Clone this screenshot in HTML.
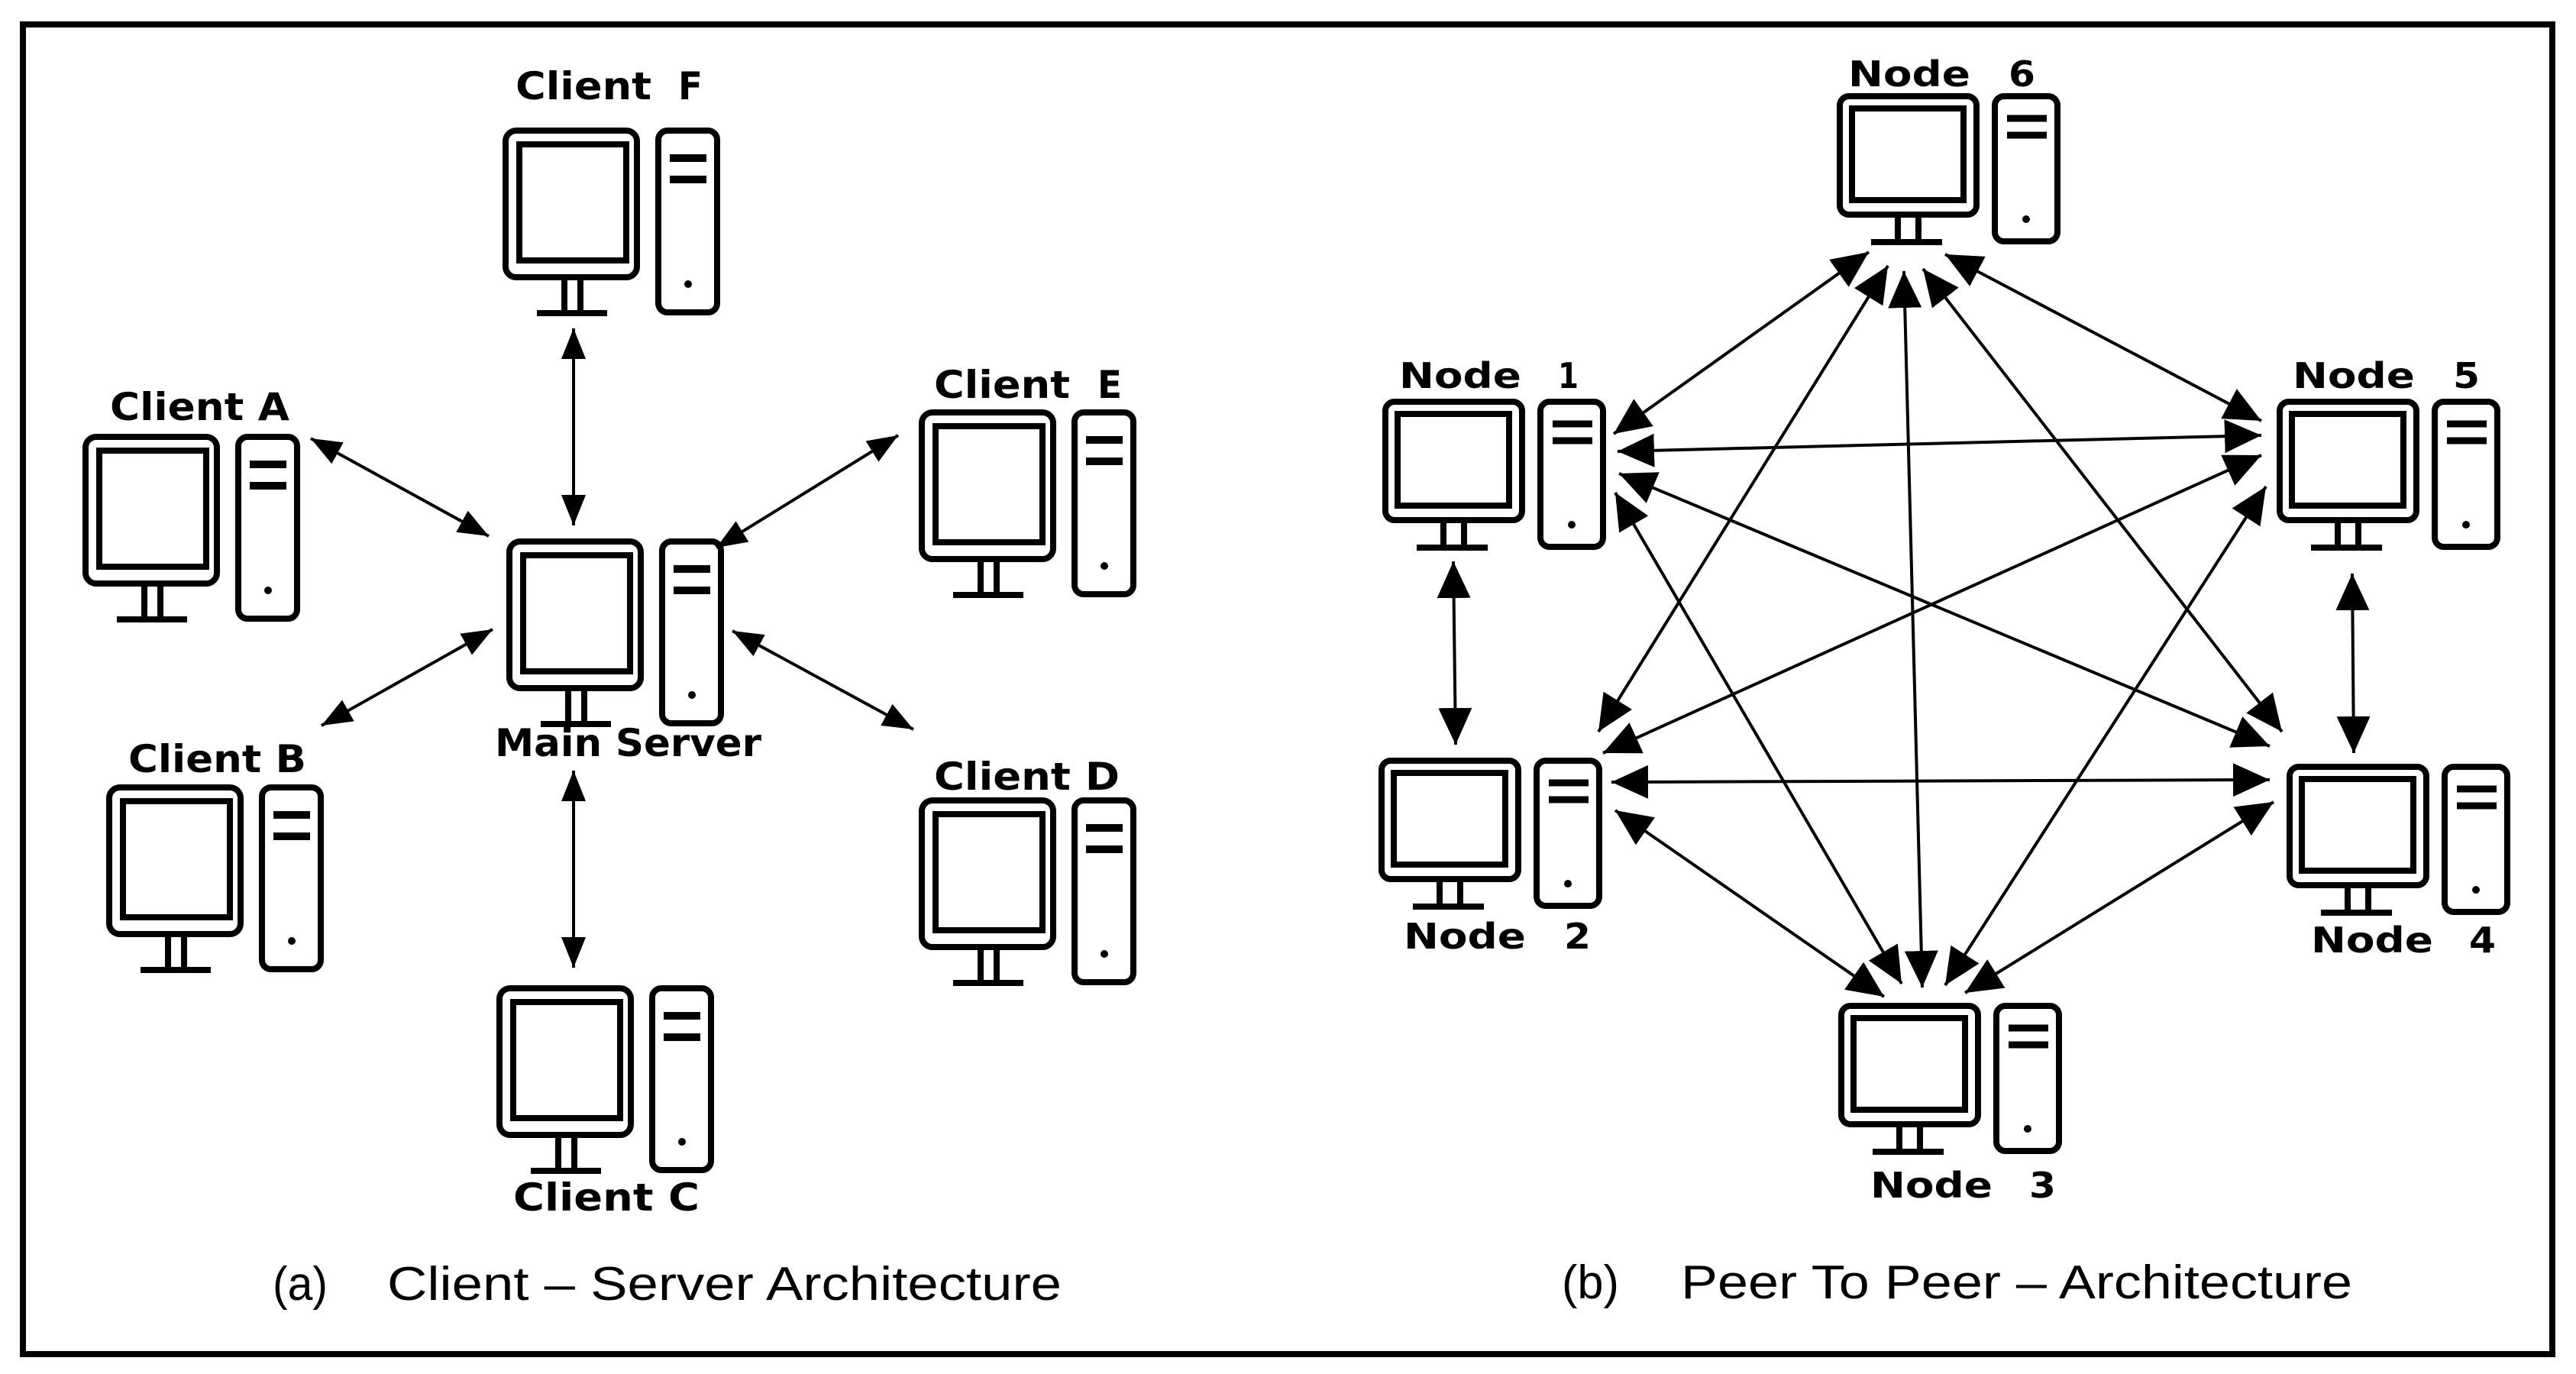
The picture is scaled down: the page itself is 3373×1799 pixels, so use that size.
<!DOCTYPE html>
<html><head><meta charset="utf-8"><style>
html,body{margin:0;padding:0;background:#fff}
svg{display:block}
</style></head><body>
<svg width="3373" height="1799" viewBox="0 0 3373 1799" xmlns="http://www.w3.org/2000/svg">
<defs>
<marker id="ma" markerUnits="userSpaceOnUse" markerWidth="44" markerHeight="36" refX="40" refY="16" orient="auto-start-reverse" viewBox="0 0 44 36">
<path d="M0,0 L40,16 L0,32 Z" fill="#000"/></marker>
<marker id="mb" markerUnits="userSpaceOnUse" markerWidth="52" markerHeight="48" refX="48" refY="22" orient="auto-start-reverse" viewBox="0 0 52 48">
<path d="M0,0 L48,22 L0,44 Z" fill="#000"/></marker>
<g id="cl" fill="none" stroke="#000" stroke-width="8">
<rect x="4" y="4" width="172" height="192" rx="14"/>
<rect x="22" y="22" width="140" height="152"/>
<line x1="81" y1="198" x2="81" y2="243"/><line x1="102" y1="198" x2="102" y2="243"/>
<line x1="45" y1="243" x2="137" y2="243"/>
<rect x="204" y="4" width="77" height="238" rx="12"/>
<line x1="219" y1="40" x2="267" y2="40" stroke-width="10"/>
<line x1="219" y1="68" x2="267" y2="68" stroke-width="10"/>
<circle cx="243" cy="205" r="5" fill="#000" stroke="none"/>
</g>
<g id="nd" fill="none" stroke="#000" stroke-width="8">
<rect x="4" y="4" width="179" height="155" rx="12"/>
<rect x="20" y="20" width="146" height="120"/>
<line x1="80" y1="161" x2="80" y2="195"/><line x1="107" y1="161" x2="107" y2="195"/>
<line x1="45" y1="195" x2="138" y2="195"/>
<rect x="207" y="4" width="82" height="190" rx="12"/>
<line x1="223" y1="33" x2="275" y2="33" stroke-width="9"/>
<line x1="223" y1="55" x2="275" y2="55" stroke-width="9"/>
<circle cx="248" cy="165" r="5" fill="#000" stroke="none"/>
</g>
</defs>
<rect x="30" y="32" width="3312" height="1741" fill="none" stroke="#000" stroke-width="8"/>

<use href="#cl" x="658" y="167"/>
<use href="#cl" x="108" y="568"/>
<use href="#cl" x="663" y="705"/>
<use href="#cl" x="1203" y="536"/>
<use href="#cl" x="139" y="1027"/>
<use href="#cl" x="1203" y="1044"/>
<use href="#cl" x="650" y="1290"/>

<g font-family="DejaVu Sans, Liberation Sans, sans-serif" font-weight="bold" font-size="50" fill="#000">
<text x="675" y="130" textLength="178" lengthAdjust="spacingAndGlyphs">Client</text>
<text x="888" y="130" textLength="32" lengthAdjust="spacingAndGlyphs">F</text>
<text x="144" y="550" textLength="235" lengthAdjust="spacingAndGlyphs">Client A</text>
<text x="1223" y="521" textLength="178" lengthAdjust="spacingAndGlyphs">Client</text>
<text x="1437" y="521" textLength="32" lengthAdjust="spacingAndGlyphs">E</text>
<text x="648" y="990" textLength="349" lengthAdjust="spacingAndGlyphs">Main Server</text>
<text x="168" y="1011" textLength="233" lengthAdjust="spacingAndGlyphs">Client B</text>
<text x="1223" y="1034" textLength="243" lengthAdjust="spacingAndGlyphs">Client D</text>
<text x="672" y="1585" textLength="244" lengthAdjust="spacingAndGlyphs">Client C</text>
</g>

<g stroke="#000" stroke-width="4" marker-start="url(#ma)" marker-end="url(#ma)">
<line x1="751" y1="430" x2="751" y2="688"/>
<line x1="407" y1="574" x2="640" y2="702"/>
<line x1="1176" y1="570" x2="938" y2="717"/>
<line x1="645" y1="824" x2="421" y2="950"/>
<line x1="959" y1="826" x2="1196" y2="955"/>
<line x1="751" y1="1009" x2="751" y2="1267"/>
</g>

<use href="#nd" x="2405" y="122"/>
<use href="#nd" x="1810" y="522"/>
<use href="#nd" x="2981" y="522"/>
<use href="#nd" x="1805" y="992"/>
<use href="#nd" x="2994" y="1000"/>
<use href="#nd" x="2407" y="1313"/>

<g font-family="DejaVu Sans, Liberation Sans, sans-serif" font-weight="bold" font-size="46" fill="#000">
<text x="2420" y="113" textLength="160" lengthAdjust="spacingAndGlyphs">Node</text><text x="2630" y="113" textLength="35" lengthAdjust="spacingAndGlyphs">6</text>
<text x="1832" y="508" textLength="160" lengthAdjust="spacingAndGlyphs">Node</text><text x="2040" y="508" textLength="27" lengthAdjust="spacingAndGlyphs">1</text>
<text x="3002" y="508" textLength="160" lengthAdjust="spacingAndGlyphs">Node</text><text x="3212" y="508" textLength="35" lengthAdjust="spacingAndGlyphs">5</text>
<text x="1838" y="1242" textLength="160" lengthAdjust="spacingAndGlyphs">Node</text><text x="2048" y="1242" textLength="35" lengthAdjust="spacingAndGlyphs">2</text>
<text x="3026" y="1247" textLength="160" lengthAdjust="spacingAndGlyphs">Node</text><text x="3233" y="1247" textLength="35" lengthAdjust="spacingAndGlyphs">4</text>
<text x="2449" y="1568" textLength="160" lengthAdjust="spacingAndGlyphs">Node</text><text x="2657" y="1568" textLength="35" lengthAdjust="spacingAndGlyphs">3</text>
</g>

<g stroke="#000" stroke-width="4" marker-start="url(#mb)" marker-end="url(#mb)">
<line x1="2447" y1="330" x2="2113" y2="568"/>
<line x1="2472" y1="348" x2="2093" y2="958"/>
<line x1="2493" y1="355" x2="2517" y2="1293"/>
<line x1="2518" y1="352" x2="2988" y2="958"/>
<line x1="2547" y1="333" x2="2961" y2="551"/>
<line x1="2118" y1="591" x2="2961" y2="570"/>
<line x1="2120" y1="620" x2="2972" y2="977"/>
<line x1="2115" y1="645" x2="2490" y2="1288"/>
<line x1="1903" y1="735" x2="1906" y2="975"/>
<line x1="2961" y1="596" x2="2099" y2="986"/>
<line x1="2967" y1="637" x2="2547" y2="1290"/>
<line x1="3080" y1="751" x2="3082" y2="986"/>
<line x1="2110" y1="1024" x2="2972" y2="1021"/>
<line x1="2115" y1="1061" x2="2467" y2="1305"/>
<line x1="2977" y1="1050" x2="2573" y2="1300"/>
</g>

<g font-family="Liberation Sans, sans-serif" font-size="62" fill="#000">
<text x="357" y="1702" textLength="72" lengthAdjust="spacingAndGlyphs">(a)</text>
<text x="507" y="1702" textLength="883" lengthAdjust="spacingAndGlyphs">Client – Server Architecture</text>
<text x="2045" y="1700" textLength="75" lengthAdjust="spacingAndGlyphs">(b)</text>
<text x="2201" y="1700" textLength="879" lengthAdjust="spacingAndGlyphs">Peer To Peer – Architecture</text>
</g>
</svg>
</body></html>
